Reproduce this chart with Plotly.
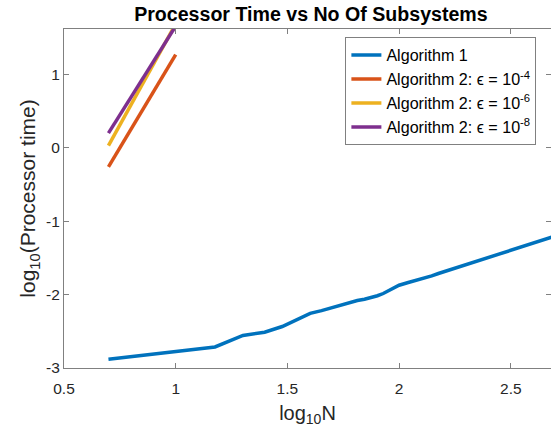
import plotly.graph_objects as go

# Algorithm 1 data (log10 N, log10 time)
alg1_x = [0.699, 1.000, 1.176, 1.301, 1.398, 1.477, 1.544, 1.602, 1.653, 1.699,
          1.740, 1.778, 1.813, 1.845, 1.875, 1.903, 1.929, 1.954, 1.978, 2.000,
          2.041, 2.079, 2.114, 2.146, 2.176, 2.204, 2.230, 2.255, 2.279, 2.301,
          2.342, 2.380, 2.415, 2.447, 2.477, 2.505, 2.531, 2.556, 2.580, 2.602,
          2.623, 2.643, 2.663, 2.681, 2.699]
alg1_y = [-2.880, -2.775, -2.713, -2.556, -2.512, -2.435, -2.340, -2.255, -2.218, -2.180,
          -2.135, -2.105, -2.080, -2.062, -2.042, -2.015, -1.985, -1.945, -1.900, -1.872,
          -1.835, -1.803, -1.782, -1.745, -1.712, -1.685, -1.655, -1.632, -1.610, -1.592,
          -1.548, -1.510, -1.476, -1.445, -1.417, -1.391, -1.366, -1.342, -1.318, -1.297,
          -1.277, -1.258, -1.238, -1.220, -1.202]

# Algorithm 2 data
alg2_x = [0.699, 1.000]
alg2_e4_y = [-0.26, 1.27]
alg2_e6_y = [0.03, 1.69]
alg2_e8_y = [0.20, 1.66]

x_ticks = [0.5, 1, 1.5, 2, 2.5]
x_tick_labels = ["0.5", "1", "1.5", "2", "2.5"]
y_ticks = [-3, -2, -1, 0, 1]
y_tick_labels = ["-3", "-2", "-1", "0", "1"]

names = ["Algorithm 1",
         "Algorithm 2: ϵ = 10<sup>-4</sup>",
         "Algorithm 2: ϵ = 10<sup>-6</sup>",
         "Algorithm 2: ϵ = 10<sup>-8</sup>"]
colors = ["#0072BD", "#D95319", "#EDB120", "#7E2F8E"]

FONT = "Liberation Sans, Arial, Helvetica, sans-serif"
TXT = "#262626"
AX = "#808080"

fig = go.Figure()
fig.add_trace(go.Scatter(x=alg1_x, y=alg1_y, mode="lines", name=names[0],
                         line=dict(color=colors[0], width=3.5)))
for ys, nm, c in zip([alg2_e4_y, alg2_e6_y, alg2_e8_y], names[1:], colors[1:]):
    fig.add_trace(go.Scatter(x=alg2_x, y=ys, mode="lines", name=nm,
                             line=dict(color=c, width=3.5)))
fig.add_trace(go.Scatter(x=[], y=[], yaxis="y2", showlegend=False, hoverinfo="skip"))

fig.update_layout(
    width=551, height=427,
    margin=dict(l=64, r=0, t=29, b=59, autoexpand=False),
    paper_bgcolor="white", plot_bgcolor="white",
    font=dict(family=FONT, color=TXT, size=15),
    title=dict(text="<b>Processor Time vs No Of Subsystems</b>",
               font=dict(family=FONT, size=19.6, color="black"),
               x=0.507, xref="paper", xanchor="center",
               y=1 - 14 / 427, yref="container", yanchor="middle",
               automargin=False),
    xaxis=dict(range=[0.5, 2.68], tickvals=x_ticks, ticktext=x_tick_labels,
               ticks="inside", ticklen=5, tickcolor=AX, showline=True,
               linecolor=AX, linewidth=1, mirror="ticks", showgrid=False,
               zeroline=False, tickfont=dict(size=15.5, color=TXT),
               automargin=False, ticklabelstandoff=6,
               title=dict(text="log<sub>10</sub>N", font=dict(size=20, color=TXT),
                          standoff=10)),
    yaxis=dict(range=[-3, 1.62], tickvals=y_ticks, ticktext=y_tick_labels,
               ticks="inside", ticklen=5, tickcolor=AX, showline=True,
               linecolor=AX, linewidth=1, showgrid=False, zeroline=False,
               tickfont=dict(size=15.5, color=TXT), automargin=False,
               title=dict(text="log<sub>10</sub>(Processor time)",
                          font=dict(size=21, color=TXT), standoff=4)),
    yaxis2=dict(range=[-3, 1.62], overlaying="y", side="right", tickvals=y_ticks,
                ticks="inside", ticklen=5, tickcolor=AX, showline=False,
                showticklabels=False, showgrid=False, zeroline=False,
                automargin=False),
    legend=dict(x=0.97, xanchor="right", y=0.976, yanchor="top",
                bordercolor=AX, borderwidth=1, bgcolor="white",
                font=dict(size=16.1, color="black"), itemwidth=30,
                tracegroupgap=0),
    showlegend=True,
)

fig.write_html("out.html", config={"displayModeBar": False},
               post_script="document.body.style.margin='0';document.body.style.padding='0';")
